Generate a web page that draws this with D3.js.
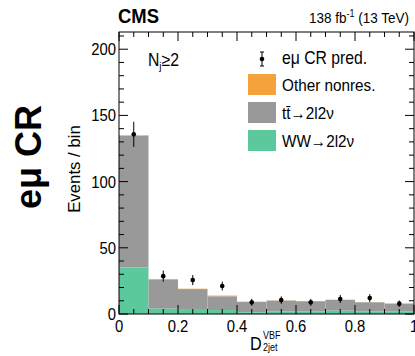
<!DOCTYPE html>
<html><head><meta charset="utf-8">
<script src="https://cdn.jsdelivr.net/npm/d3@7"></script>
<style>body{margin:0;background:#fff}svg{display:block}text{font-family:"Liberation Sans",Arial,sans-serif}</style>
</head><body><svg id="c" width="415" height="356"></svg>
<script>
const binEdges = [0,0.1,0.2,0.3,0.4,0.5,0.6,0.7,0.8,0.9,1.0];
const wwVals = [35.2,4.0,3.8,3.0,1.3,2.0,2.0,2.5,2.0,1.8];
const ttVals = [99.5,22.1,15.0,10.3,7.8,8.1,7.6,8.1,6.8,6.0];
const otherVals = [0.3,0.3,0.3,0.6,0.2,0.2,0.2,0.2,0.2,0.2];
const predVals = [135.7,28.6,25.6,21.1,8.8,10.5,8.8,11.3,12.0,7.8];
const predErr = [9.5,4.2,3.8,3.3,2.6,2.8,2.6,3.0,3.0,2.4];
const xTicks = [0,0.2,0.4,0.6,0.8,1];
const yTicks = [0,50,100,150,200];

const svg = d3.select("#c");
const L=119,R=414,T=32,B=314;
const x = d3.scaleLinear().domain([0,1]).range([L,R]);
const y = d3.scaleLinear().domain([0,213]).range([B,T]);
const colors = {other:"#f4a23b", tt:"#999999", ww:"#5bc99b"};
const SX = 0.9; // horizontal squeeze of the reference's text

function txt(parent, px, py, str, size, anchor, weight){
  const t = parent.append("text")
    .attr("transform",`translate(${px},${py}) scale(${SX},1)`)
    .attr("font-size",size).attr("text-anchor",anchor||"start");
  if(weight) t.attr("font-weight",weight);
  if(str!==null) t.text(str);
  return t;
}

const g = svg.append("g");
binEdges.slice(0,-1).forEach((e,i)=>{
  const x0=x(e), x1=x(binEdges[i+1]);
  const s1=wwVals[i], s2=s1+ttVals[i], s3=s2+otherVals[i];
  g.append("rect").attr("x",x0).attr("width",x1-x0).attr("y",y(s3)).attr("height",y(s2)-y(s3)).attr("fill",colors.other);
  g.append("rect").attr("x",x0).attr("width",x1-x0).attr("y",y(s2)).attr("height",y(s1)-y(s2)).attr("fill",colors.tt);
  g.append("rect").attr("x",x0).attr("width",x1-x0).attr("y",y(s1)).attr("height",y(0)-y(s1)).attr("fill",colors.ww);
});

// frame with minor ticks
const fg = svg.append("g").attr("stroke","#000").attr("stroke-width",1);
d3.range(0,1.0001,0.05).forEach(v=>{
  const major = Math.abs(v*5-Math.round(v*5))<1e-6;
  const len = major?9:5;
  const xp = x(v);
  fg.append("line").attr("x1",xp).attr("x2",xp).attr("y1",B).attr("y2",B-len);
  fg.append("line").attr("x1",xp).attr("x2",xp).attr("y1",T).attr("y2",T+len);
});
d3.range(0,211,10).forEach(v=>{
  const major = v%50===0;
  const len = major?9:5;
  const yp=y(v);
  fg.append("line").attr("x1",L).attr("x2",L+len).attr("y1",yp).attr("y2",yp);
  fg.append("line").attr("x1",R).attr("x2",R-len).attr("y1",yp).attr("y2",yp);
});
svg.append("rect").attr("x",L).attr("y",T).attr("width",R-L).attr("height",B-T).attr("fill","none").attr("stroke","#000").attr("stroke-width",1);

// tick labels
const tl = svg.append("g");
yTicks.forEach(d=>txt(tl, L-3, y(d)+6, String(d), 16.5, "end"));
xTicks.forEach(d=>txt(tl, x(d), B+18, String(d), 16.5, "middle"));

// data points
const cx = i=>x((binEdges[i]+binEdges[i+1])/2);
const pg = svg.append("g");
predVals.forEach((v,i)=>{
  pg.append("line").attr("x1",cx(i)).attr("x2",cx(i)).attr("y1",y(v-predErr[i])).attr("y2",y(v+predErr[i])).attr("stroke","#000").attr("stroke-width",1);
  pg.append("circle").attr("cx",cx(i)).attr("cy",y(v)).attr("r",2.3).attr("fill","#000");
});

// titles
txt(svg, 118, 23, "CMS", 20.5, "start", "bold");
const lum = txt(svg, 409, 23, null, 15, "end");
lum.append("tspan").text("138 fb");
lum.append("tspan").attr("font-size",10).attr("dy",-6).text("-1");
lum.append("tspan").attr("dy",6).text(" (13 TeV)");

const nj = txt(svg, 148, 66, null, 17.5);
nj.append("tspan").text("N");
nj.append("tspan").attr("font-size",11).attr("dy",4).text("j");
nj.append("tspan").attr("dy",-4).text("≥2");

// legend
const lg = svg.append("g");
lg.append("line").attr("x1",262).attr("x2",262).attr("y1",52).attr("y2",66).attr("stroke","#000");
lg.append("line").attr("x1",260).attr("x2",264).attr("y1",52).attr("y2",52).attr("stroke","#000");
lg.append("line").attr("x1",260).attr("x2",264).attr("y1",66).attr("y2",66).attr("stroke","#000");
lg.append("circle").attr("cx",262).attr("cy",59).attr("r",2.3).attr("fill","#000");
txt(lg, 282, 64, "eμ CR pred.", 17.5);
const legItems = [["Other nonres.",colors.other,74],["tt̄→2l2ν",colors.tt,102],["WW→2l2ν",colors.ww,130]];
legItems.forEach(([t,c,yy])=>{
  lg.append("rect").attr("x",248).attr("y",yy).attr("width",28).attr("height",21).attr("fill",c);
  txt(lg, 282, yy+17, t, 17);
});

// axis titles
svg.append("text").attr("transform","translate(80,169) rotate(-90)").attr("text-anchor","middle").attr("font-size",16.8).text("Events / bin");
svg.append("text").attr("transform","translate(41,157) rotate(-90)").attr("text-anchor","middle").attr("font-size",36).attr("font-weight","bold").text("eμ CR");
txt(svg, 250, 350, "D", 18);
txt(svg, 263, 338.5, "VBF", 10);
txt(svg, 263, 350.5, "2jet", 10);
</script></body></html>
